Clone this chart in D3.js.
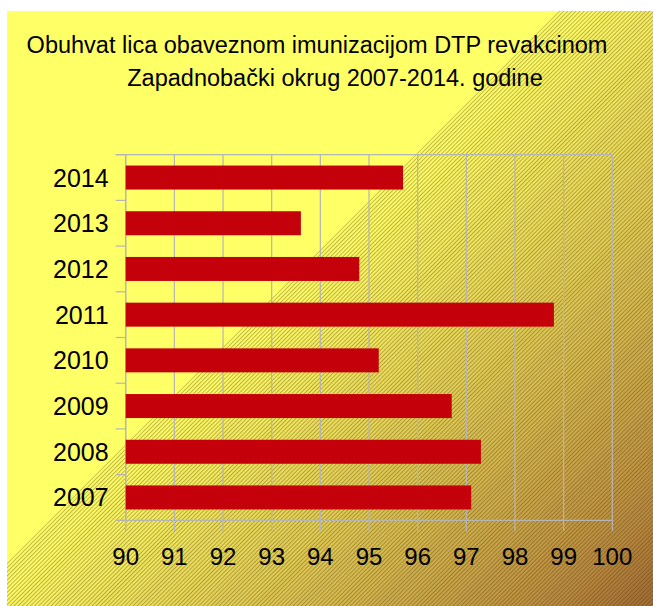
<!DOCTYPE html>
<html>
<head>
<meta charset="utf-8">
<script src="https://cdn.jsdelivr.net/npm/d3@7"></script>
<style>
  html, body { margin: 0; padding: 0; background: #ffffff; }
  svg { display: block; }
  text { font-family: "Liberation Sans", Arial, sans-serif; fill: #000; }
</style>
</head>
<body>
<svg id="chart" width="653" height="606"></svg>
<script>
// Coverage (%) by year, top row first
const years = ["2014", "2013", "2012", "2011", "2010", "2009", "2008", "2007"];
const coverage = [95.7, 93.6, 94.8, 98.8, 95.2, 96.7, 97.3, 97.1];
const xTicks = [90, 91, 92, 93, 94, 95, 96, 97, 98, 99, 100];
const titleLines = [
  "Obuhvat lica obaveznom imunizacijom DTP revakcinom",
  "Zapadnobački okrug 2007-2014. godine"
];

const W = 653, H = 606;
const svg = d3.select("#chart");
const defs = svg.append("defs");

// Brown gradient running along the diagonal of the lower-right half
const grad = defs.append("linearGradient")
  .attr("id", "bgGrad")
  .attr("gradientUnits", "userSpaceOnUse")
  .attr("x1", 285).attr("y1", 285)
  .attr("x2", 630).attr("y2", 630);
grad.append("stop").attr("offset", "0").attr("stop-color", "#FFFF66");
grad.append("stop").attr("offset", "0.45").attr("stop-color", "#DCC553");
grad.append("stop").attr("offset", "0.85").attr("stop-color", "#B98A40");
grad.append("stop").attr("offset", "1").attr("stop-color", "#A06A36");

// Fine diagonal hatch
const pat = defs.append("pattern")
  .attr("id", "hatch")
  .attr("patternUnits", "userSpaceOnUse")
  .attr("width", 2.9).attr("height", 10)
  .attr("patternTransform", "rotate(45)");
pat.append("line")
  .attr("x1", 0.5).attr("y1", 0).attr("x2", 0.5).attr("y2", 10)
  .attr("stroke", "rgba(70,50,0,0.38)")
  .attr("stroke-width", 0.9);

defs.append("clipPath").attr("id", "areaClip")
  .append("rect").attr("x", 7).attr("y", 11).attr("width", W - 7).attr("height", H - 11);

// Chart area background
svg.append("rect")
  .attr("x", 7).attr("y", 11).attr("width", W - 7).attr("height", H - 11)
  .attr("fill", "#FFFF66");

const edge = 570; // x + y of the diagonal boundary
const tri = [[edge - 11, 11], [W + 20, 11], [W + 20, H + 20], [edge - H - 20, H + 20]];
const g = svg.append("g").attr("clip-path", "url(#areaClip)");
g.append("polygon").attr("points", tri.map(p => p.join(",")).join(" ")).attr("fill", "url(#bgGrad)");
g.append("polygon").attr("points", tri.map(p => p.join(",")).join(" ")).attr("fill", "url(#hatch)");

// Title
svg.selectAll("text.title")
  .data(titleLines)
  .join("text")
  .attr("class", "title")
  .attr("x", (d, i) => i === 0 ? 317 : 335)
  .attr("y", (d, i) => 53 + i * 33)
  .attr("text-anchor", "middle")
  .style("font-size", "23.5px")
  .text(d => d);

// Plot area
const plotL = 125.7, plotR = 612.3, plotT = 154.7, plotB = 520.3;
const x = d3.scaleLinear().domain([90, 100]).range([plotL, plotR]);
const y = d3.scaleBand().domain(years).range([plotT, plotB])
  .paddingInner(0.475).paddingOuter(0.2375);
const step = y.step();
const gridColor = "#B5B5B5";

// Vertical gridlines
svg.append("g")
  .selectAll("line")
  .data(xTicks)
  .join("line")
  .attr("x1", d => x(d)).attr("x2", d => x(d))
  .attr("y1", plotT).attr("y2", plotB + 11)
  .attr("stroke", gridColor).attr("stroke-width", 1.2);

// Top border and bottom axis line
svg.append("line").attr("x1", plotL - 10).attr("x2", plotR).attr("y1", plotT).attr("y2", plotT)
  .attr("stroke", gridColor).attr("stroke-width", 1.2);
svg.append("line").attr("x1", plotL - 10).attr("x2", plotR).attr("y1", plotB).attr("y2", plotB)
  .attr("stroke", gridColor).attr("stroke-width", 1.2);

// Category axis line and ticks at band boundaries
svg.append("line").attr("x1", plotL).attr("x2", plotL).attr("y1", plotT).attr("y2", plotB)
  .attr("stroke", gridColor).attr("stroke-width", 1.2);
const bounds = d3.range(years.length + 1).map(i => plotT + i * step);
svg.append("g").selectAll("line").data(bounds).join("line")
  .attr("x1", plotL - 10).attr("x2", plotL)
  .attr("y1", d => d).attr("y2", d => d)
  .attr("stroke", gridColor).attr("stroke-width", 1.2);

// Bars
svg.append("g")
  .selectAll("rect")
  .data(years.map((yr, i) => ({ yr, v: coverage[i] })))
  .join("rect")
  .attr("x", x(90))
  .attr("y", d => y(d.yr))
  .attr("width", d => x(d.v) - x(90))
  .attr("height", y.bandwidth())
  .attr("fill", "#C4000A");

// Category labels
svg.append("g")
  .selectAll("text")
  .data(years)
  .join("text")
  .attr("x", plotL - 17)
  .attr("y", d => y(d) + y.bandwidth() / 2 + 9)
  .attr("text-anchor", "end")
  .style("font-size", "25px")
  .text(d => d);

// Value axis labels
svg.append("g")
  .selectAll("text")
  .data(xTicks)
  .join("text")
  .attr("x", d => x(d))
  .attr("y", plotB + 45)
  .attr("text-anchor", "middle")
  .style("font-size", "24px")
  .text(d => d);
</script>
</body>
</html>
